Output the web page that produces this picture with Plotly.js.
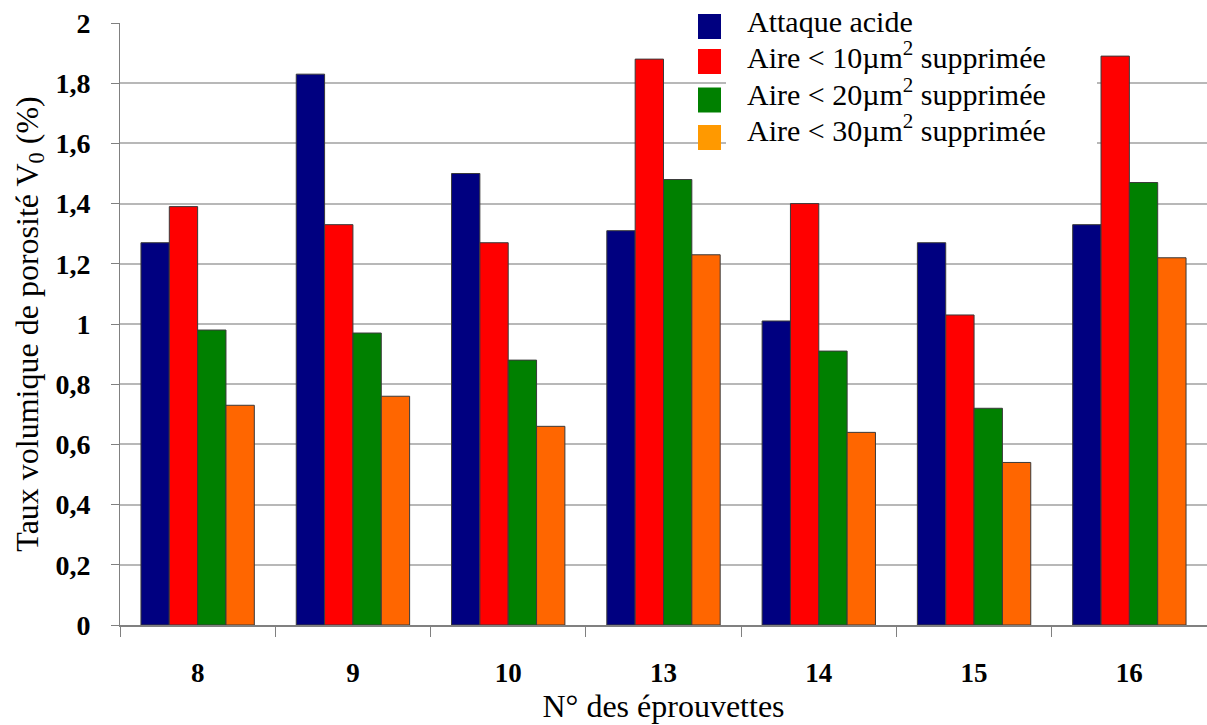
<!DOCTYPE html>
<html>
<head>
<meta charset="utf-8">
<script src="https://cdn.plot.ly/plotly-3.0.1.min.js"></script>
<style>html,body{margin:0;padding:0;background:#fff;}#chart{width:1207px;height:725px;}</style>
</head>
<body>
<div id="chart"></div>
<script>
const categories = ["8", "9", "10", "13", "14", "15", "16"];
const seriesNames = ["Attaque acide", "Aire &lt; 10µm<sup>2</sup> supprimée", "Aire &lt; 20µm<sup>2</sup> supprimée", "Aire &lt; 30µm<sup>2</sup> supprimée"];
const attaqueAcide = [1.27, 1.83, 1.50, 1.31, 1.01, 1.27, 1.33];
const aire10 = [1.39, 1.33, 1.27, 1.88, 1.40, 1.03, 1.89];
const aire20 = [0.98, 0.97, 0.88, 1.48, 0.91, 0.72, 1.47];
const aire30 = [0.73, 0.76, 0.66, 1.23, 0.64, 0.54, 1.22];
const yTickVals = [0, 0.2, 0.4, 0.6, 0.8, 1, 1.2, 1.4, 1.6, 1.8, 2];
const yTickText = ["0", "0,2", "0,4", "0,6", "0,8", "1", "1,2", "1,4", "1,6", "1,8", "2"];

const barColors = ["#000080", "#FF0000", "#008000", "#FF6600"];
const legendColors = ["#000080", "#FF0000", "#008000", "#FF9900"];
const seriesValues = [attaqueAcide, aire10, aire20, aire30];
const SERIF = "Liberation Serif, Times New Roman, serif";

const traces = seriesValues.map((vals, i) => ({
  type: "bar",
  name: seriesNames[i],
  x: categories,
  y: vals,
  marker: {color: barColors[i], line: {color: "#3a3a3a", width: 1}},
  showlegend: false,
  hoverinfo: "x+y"
}));

// manual legend (paper coordinates)
const W = 1087, H = 602, L = 120, T = 23;
function px(x) { return (x - L) / W; }
function py(y) { return (T + H - y) / H; }
const shapes = [{
  type: "rect", xref: "paper", yref: "paper",
  x0: px(726), x1: px(1097), y0: py(160), y1: py(0),
  fillcolor: "#ffffff", line: {width: 0}, layer: "above"
}];
const annotations = [];
const squareCenters = [26.5, 61.5, 100, 137.5];
const textBaselines = [29, 65, 102, 138];
squareCenters.forEach((c, i) => {
  shapes.push({
    type: "rect", xref: "paper", yref: "paper",
    x0: px(698), x1: px(721), y0: py(c + 12.5), y1: py(c - 12.5),
    fillcolor: legendColors[i], line: {width: 0}, layer: "above"
  });
  annotations.push({
    xref: "paper", yref: "paper", x: px(746), y: py(textBaselines[i] + 10),
    xanchor: "left", yanchor: "bottom", showarrow: false,
    text: seriesNames[i], borderpad: 0,
    font: {family: SERIF, size: 30, color: "#000"}
  });
});

const layout = {
  width: 1207, height: 725,
  margin: {l: 120, r: 0, t: 23, b: 100},
  paper_bgcolor: "#ffffff", plot_bgcolor: "#ffffff",
  barmode: "group",
  bargap: 0.27,
  bargroupgap: 0,
  font: {family: SERIF, color: "#000"},
  xaxis: {
    type: "category",
    tickson: "boundaries",
    ticks: "outside", ticklen: 10, tickcolor: "#808080", tickwidth: 1,
    showline: true, linecolor: "#808080", linewidth: 2,
    showgrid: false,
    tickfont: {family: SERIF, size: 27, color: "#000", weight: "bold"},
    ticklabelstandoff: 23,
    title: {text: "N° des éprouvettes", font: {family: SERIF, size: 32, color: "#000"}, standoff: 7},
    automargin: false
  },
  yaxis: {
    range: [0, 2],
    tickvals: yTickVals, ticktext: yTickText,
    ticks: "outside", ticklen: 8, tickcolor: "#808080", tickwidth: 1,
    showline: true, linecolor: "#808080", linewidth: 1,
    showgrid: true, gridcolor: "#b8b8b8", gridwidth: 2,
    zeroline: false,
    tickfont: {family: SERIF, size: 28, color: "#000", weight: "bold"},
    ticklabelstandoff: 15,
    title: {text: "Taux volumique de porosité V<sub>0</sub> (%)", font: {family: SERIF, size: 32, color: "#000"}, standoff: 7},
    automargin: false
  },
  shapes: shapes,
  annotations: annotations
};

Plotly.newPlot("chart", traces, layout, {displayModeBar: false, staticPlot: true});
</script>
</body>
</html>
